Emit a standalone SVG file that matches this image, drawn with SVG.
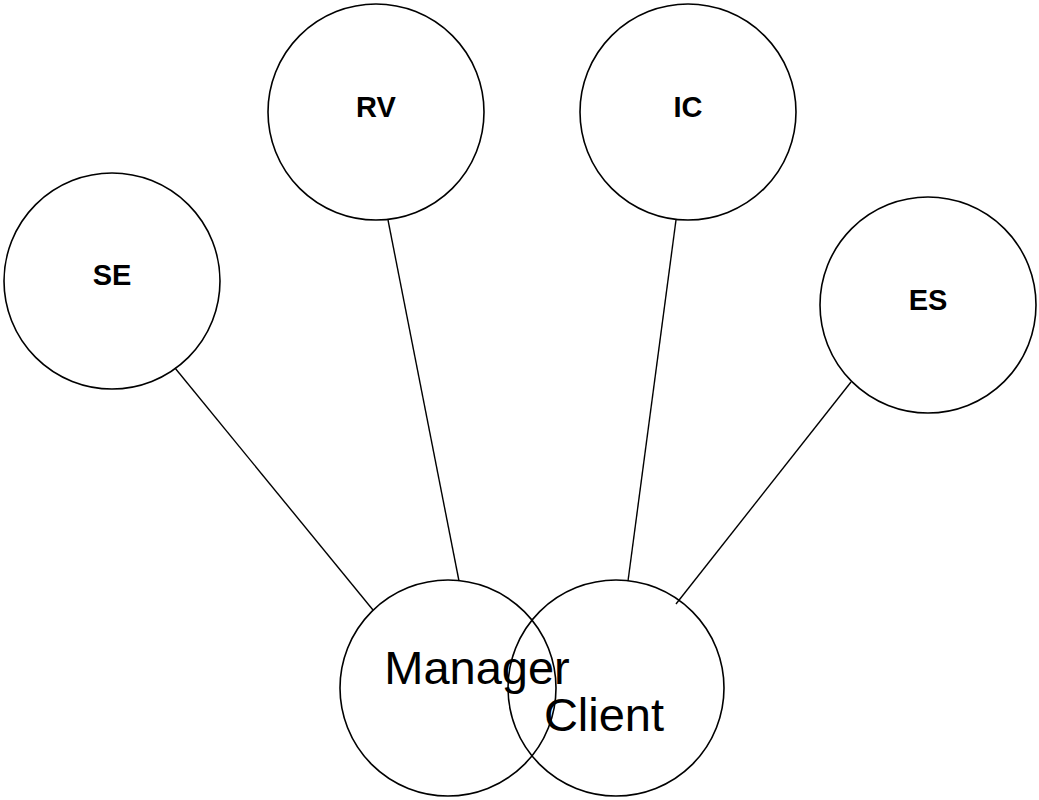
<svg xmlns="http://www.w3.org/2000/svg" width="1039" height="800" viewBox="0 0 1039 800">
  <style>
    .node circle { fill: none; stroke: #000; stroke-width: 1.6; }
    .label { font-family: "Liberation Sans", Arial, sans-serif; font-weight: bold; font-size: 29px; text-anchor: middle; fill: #000; }
    .big { font-family: "Liberation Sans", Arial, sans-serif; font-size: 47px; text-anchor: middle; fill: #000; }
    .edges line { stroke: #000; stroke-width: 1.4; }
  </style>
  <rect width="1039" height="800" fill="#fff"/>

  <g class="edges" id="connectors">
    <line x1="175" y1="368" x2="373" y2="610"/>
    <line x1="388" y1="220" x2="459" y2="581"/>
    <line x1="676" y1="220" x2="628" y2="581"/>
    <line x1="851" y1="382" x2="676" y2="604"/>
  </g>

  <g class="node" id="node-se">
    <circle cx="112" cy="281" r="108"/>
    <text class="label" x="112" y="285">SE</text>
  </g>
  <g class="node" id="node-rv">
    <circle cx="376" cy="112" r="108"/>
    <text class="label" x="376" y="117">RV</text>
  </g>
  <g class="node" id="node-ic">
    <circle cx="688" cy="112" r="108"/>
    <text class="label" x="688" y="117">IC</text>
  </g>
  <g class="node" id="node-es">
    <circle cx="928" cy="305" r="108"/>
    <text class="label" x="928" y="310">ES</text>
  </g>
  <g class="node" id="node-manager">
    <circle cx="448" cy="688" r="108"/>
    <text class="big" x="477" y="684">Manager</text>
  </g>
  <g class="node" id="node-client">
    <circle cx="616" cy="688" r="108"/>
    <text class="big" x="604" y="731">Client</text>
  </g>
</svg>
